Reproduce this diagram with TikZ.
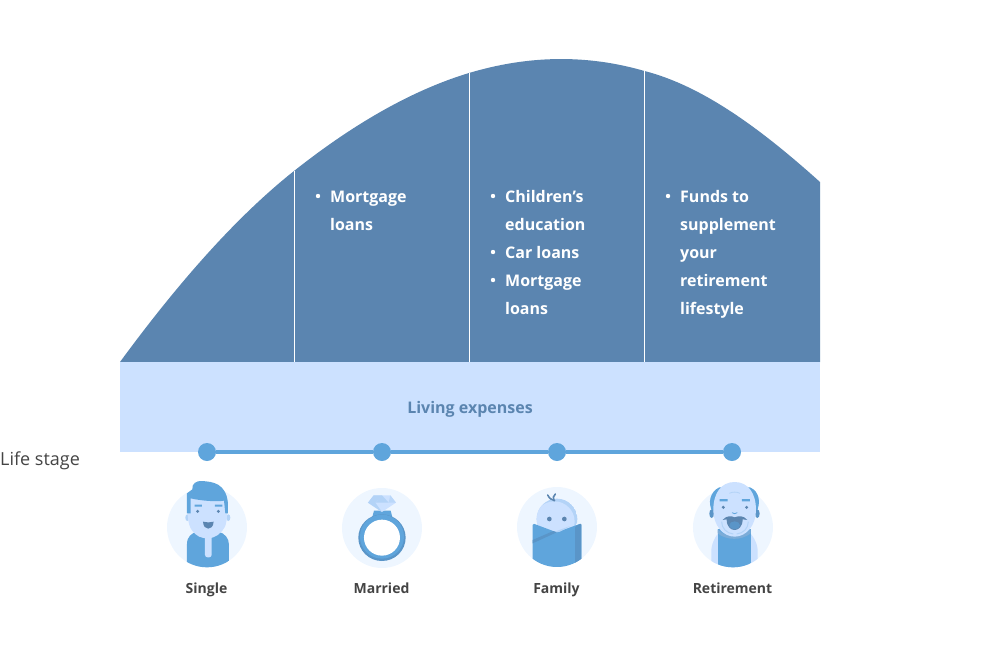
\documentclass[tikz,border=0pt]{standalone}
\usepackage{fontspec}
\setmainfont{Open Sans}
\definecolor{steel}{HTML}{5B85B0}
\definecolor{pale}{HTML}{CCE1FF}
\definecolor{midblue}{HTML}{5FA5DC}
\definecolor{halo}{HTML}{EEF6FF}
\definecolor{softblue}{HTML}{B3D3F7}
\definecolor{deepblue}{HTML}{5A95C8}
\definecolor{ink}{HTML}{444444}
\tikzset{
  dot/.style={circle,fill=midblue,minimum size=18pt,inner sep=0pt},
  divider/.style={white,line width=0.9pt},
  stagelabel/.style={font=\bfseries\fontsize{14}{14}\selectfont,text=ink,anchor=base},
  itemtext/.style={font=\bfseries\fontsize{16}{28}\selectfont,text=white,anchor=base west,inner sep=0pt},
  bullet/.style={circle,fill=white,minimum size=4.4pt,inner sep=0pt},
  icon/.style={x=0.3333pt,y=-0.3333pt},
}
\begin{document}
\begin{tikzpicture}[x=1pt,y=-1pt]
\useasboundingbox (0,0) rectangle (990,659);
% curve
\fill[steel] (120,362) .. controls (178,283) and (236,217) .. (294,171) .. controls (352,125) and (411,90.5) .. (469,73) .. controls (527.5,55.5) and (586,54) .. (644.5,71) .. controls (703,86) and (761.5,129.4) .. (820,182) -- (820,362) -- cycle;
\coordinate (d1t) at (294.5,171); \coordinate (d1b) at (294.5,362);
\coordinate (d2t) at (469.5,73); \coordinate (d2b) at (469.5,362);
\coordinate (d3t) at (644.5,71); \coordinate (d3b) at (644.5,362);
\draw[divider] (d1t) -- (d1b);
\draw[divider] (d2t) -- (d2b);
\draw[divider] (d3t) -- (d3b);
\fill[pale] (120,362) rectangle (820,452);
\node[font=\bfseries\fontsize{16}{16}\selectfont,text=steel,anchor=base] (living) at (470,413) {Living expenses};
% items
\node[bullet] (b1) at (318,196) {};
\node[itemtext] (t1) at (330,202) {Mortgage};
\node[itemtext] (t1b) at (330,230) {loans};
\node[bullet] (b2) at (493,196) {};
\node[itemtext] (t2) at (505,202) {Children’s};
\node[itemtext] (t2b) at (505,230) {education};
\node[bullet] (b3) at (493,252) {};
\node[itemtext] (t3) at (505,258) {Car loans};
\node[bullet] (b4) at (493,280) {};
\node[itemtext] (t4) at (505,286) {Mortgage};
\node[itemtext] (t4b) at (505,314) {loans};
\node[bullet] (b5) at (668,196) {};
\node[itemtext] (t5) at (680,202) {Funds to};
\node[itemtext] (t5b) at (680,230) {supplement};
\node[itemtext] (t5c) at (680,258) {your};
\node[itemtext] (t5d) at (680,286) {retirement};
\node[itemtext] (t5e) at (680,314) {lifestyle};
% timeline
\node[dot] (n1) at (207,452) {};
\node[dot] (n2) at (382,452) {};
\node[dot] (n3) at (557,452) {};
\node[dot] (n4) at (732,452) {};
\draw[midblue,line width=3.5pt] (n1) -- (n2);
\draw[midblue,line width=3.5pt] (n2) -- (n3);
\draw[midblue,line width=3.5pt] (n3) -- (n4);
\node[font=\fontsize{18}{18}\selectfont,text=ink,anchor=base west,inner sep=0pt] (life) at (0,465) {Life stage};
\node[stagelabel] (s1) at (206.5,593) {Single};
\node[stagelabel] (s2) at (381.5,593) {Married};
\node[stagelabel] (s3) at (556.5,593) {Family};
\node[stagelabel] (s4) at (732.5,593) {Retirement};
% ---- Single
\begin{scope}[icon,shift={(150pt,-470pt)}]
\fill[halo] (171,172) circle (120);
\begin{scope}
\clip (171,172) circle (120);
\fill[midblue] (111,300) -- (111,222) .. controls (111,200) and (125,190) .. (140,185) -- (205,185) .. controls (225,190) and (237,205) .. (237,225) -- (237,300) -- cycle;
\end{scope}
\fill[pale,rounded corners=2.5pt] (165,195) rectangle (185,262);
\fill[softblue] (112,143) ellipse (6 and 10) (235,143) ellipse (6 and 10);
\fill[pale] (112,80) .. controls (112,130) and (112,160) .. (125,180) .. controls (140,200) and (155,205) .. (172,205) .. controls (195,205) and (215,190) .. (225,170) .. controls (233,150) and (233,110) .. (230,75) -- cycle;
\fill[midblue] (111,130) -- (111,70) -- (127,58) .. controls (125,40) and (140,32) .. (155,33) .. controls (190,35) and (228,40) .. (234,100) -- (234,130) -- (226,130) -- (222,92) .. controls (200,96) and (150,92) .. (122,85) -- (122,130) -- cycle;
\fill[steel] (143,124) circle (5) (205,124) circle (5);
\fill[midblue] (134,104) rectangle (156,110) (195,104) rectangle (217,110);
\fill[steel] (159,155) .. controls (170,158) and (180,158) .. (191,155) .. controls (190,170) and (182,176) .. (175,176) .. controls (167,176) and (160,170) .. (159,155) -- cycle;
\end{scope}
% ---- Married
\begin{scope}[icon,shift={(150pt,-470pt)}]
\fill[halo] (696,174) circle (120);
\fill[midblue] (672,122) -- (722,122) -- (728,145) -- (666,145) -- cycle;
\fill[deepblue] (696,203) ellipse (71 and 70);
\fill[midblue] (696,200) circle (66);
\fill[white] (696,203) circle (54);
\fill[pale] (654,98) -- (671,76) -- (721,76) -- (738,98) -- (696,126) -- cycle;
\fill[softblue] (671,76) -- (696,76) -- (676,98) -- (696,126) -- (654,98) -- cycle;
\fill[softblue] (696,76) -- (716,98) -- (676,98) -- cycle;
\fill[softblue!70!pale] (721,76) -- (738,98) -- (716,98) -- cycle;
\end{scope}
% ---- Family
\begin{scope}[icon,shift={(500pt,-470pt)}]
\fill[halo] (171,171) circle (120);
\begin{scope}
\clip (171,147) circle (61);
\fill[softblue] (171,147) circle (61);
\fill[pale] (163,155) circle (61);
\end{scope}
\draw[steel,line width=1.6pt,line cap=round] (143,75) .. controls (148,85) and (155,90) .. (164,92);
\draw[steel,line width=1.6pt,line cap=round] (166,72) .. controls (160,78) and (158,84) .. (162,92);
\fill[steel] (148,147) circle (7) (193,147) circle (7);
\begin{scope}
\clip (171,171) circle (120);
\fill[midblue,rounded corners=1.5pt] (98,300) -- (98,160) -- (170,187) -- (244,160) -- (244,300) -- cycle;
\fill[softblue] (165,185) -- (210,168) -- (180,185) -- (170,187) -- cycle;
\fill[deepblue,rounded corners=1pt] (225,170) -- (244,160) -- (244,300) -- (225,300) -- cycle;
\fill[deepblue] (98,210) -- (160,183) -- (170,187) -- (98,220) -- cycle;
\end{scope}
\end{scope}
% ---- Retirement
\begin{scope}[icon,shift={(500pt,-470pt)}]
\fill[halo] (699,172) circle (120);
\begin{scope}
\clip (699,172) circle (120);
\fill[pale] (634,300) -- (634,240) .. controls (636,215) and (650,190) .. (670,175) -- (735,175) .. controls (755,190) and (772,215) .. (773,240) -- (773,300) -- cycle;
\fill[midblue] (653,300) -- (653,178) -- (752,178) -- (752,300) -- cycle;
\end{scope}
\fill[midblue] (638,125) .. controls (622,100) and (630,65) .. (658,52) -- (750,52) .. controls (780,65) and (782,100) .. (770,125) -- cycle;
\fill[deepblue] (635,131) ellipse (7 and 13) (772,131) ellipse (7 and 13);
\fill[deepblue!70!pale] (653,178) .. controls (680,205) and (725,205) .. (752,178) -- (752,190) .. controls (725,212) and (680,212) .. (653,190) -- cycle;
\fill[pale] (704,36) .. controls (745,36) and (768,70) .. (768,120) .. controls (768,165) and (740,200) .. (704,200) .. controls (668,200) and (640,165) .. (640,120) .. controls (640,70) and (663,36) .. (704,36) -- cycle;
\draw[softblue,line width=0.8pt] (688,70) .. controls (698,65) and (710,65) .. (720,70);
\fill[midblue] (659,87) rectangle (683,94) (726,87) rectangle (750,94);
\fill[steel] (670,112) circle (5) (740,112) circle (5);
\draw[midblue,line width=0.8pt] (696,128) .. controls (702,132) and (706,132) .. (712,128);
\draw[softblue,line width=1pt] (665,155) .. controls (665,175) and (680,190) .. (700,192);
\draw[softblue,line width=1pt] (745,155) .. controls (745,175) and (730,190) .. (710,192);
\fill[steel] (668,150) .. controls (680,135) and (695,138) .. (704,142) .. controls (715,138) and (730,135) .. (742,150) -- (728,148) .. controls (728,170) and (715,180) .. (704,180) .. controls (692,180) and (680,170) .. (680,148) -- cycle;
\fill[deepblue] (704,166) ellipse (16 and 12);
\end{scope}
\end{tikzpicture}
\end{document}
